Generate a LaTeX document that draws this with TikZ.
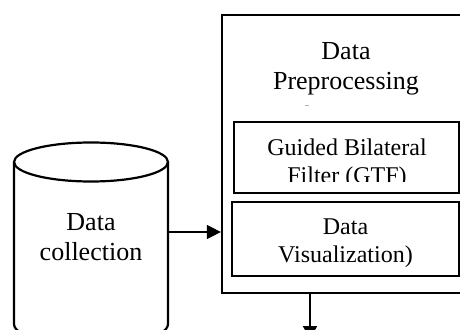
\documentclass[tikz,border=0pt]{standalone}
\usepackage{fontspec}
\setmainfont{Liberation Serif}
\usetikzlibrary{arrows.meta}
\begin{document}
\begin{tikzpicture}[x=1pt,y=-1pt,
  box/.style={draw, line width=2.2pt, inner sep=0},
  lab/.style={align=center, inner sep=0, font=\fontsize{24}{28}\selectfont},
  big/.style={align=center, inner sep=0, font=\fontsize{26}{30}\selectfont},
  conn/.style={line width=1.2pt, -{Triangle[length=14pt,width=14pt]}}]
\useasboundingbox (0,0) rectangle (460,329);
\clip (0,0) rectangle (460,329);
% outer preprocessing box (right edge lies outside the picture)
\node[box, minimum width=258pt, minimum height=278pt] (pre) at (351,154) {};
\node[big] (title) at (346,68.5) {Data\\Preprocessing};
\draw[gray!60, line width=0.8pt] (305,105) -- (309,105);
% inner boxes
\node[box, minimum width=225pt, minimum height=71pt] (gbfbox) at (346.5,157.5) {};
\begin{scope}
  \clip (234,122) rectangle (459,181.5);
  \node[lab] (gbf) at (347,164) {Guided Bilateral\\Filter (GTF)};
\end{scope}
\node[box, minimum width=227pt, minimum height=74pt] (visbox) at (345.5,239) {};
\node[lab] (vis) at (345.5,243) {Data\\Visualization)};
% cylinder
\draw[line width=2.2pt] (91,162) ellipse [x radius=77pt, y radius=19.5pt];
\draw[line width=2.2pt] (14,162) -- (14,324) .. controls (14,350) and (168,350) .. (168,324) -- (168,162);
\node[big] (dc) at (91,237.5) {Data\\collection};
% connectors
\coordinate (a1) at (168,232);
\draw[conn] (a1) -- (a1 -| pre.west);
\coordinate (a2) at (310,340);
\draw[conn] (pre.south -| a2) -- (a2);
\end{tikzpicture}
\end{document}
